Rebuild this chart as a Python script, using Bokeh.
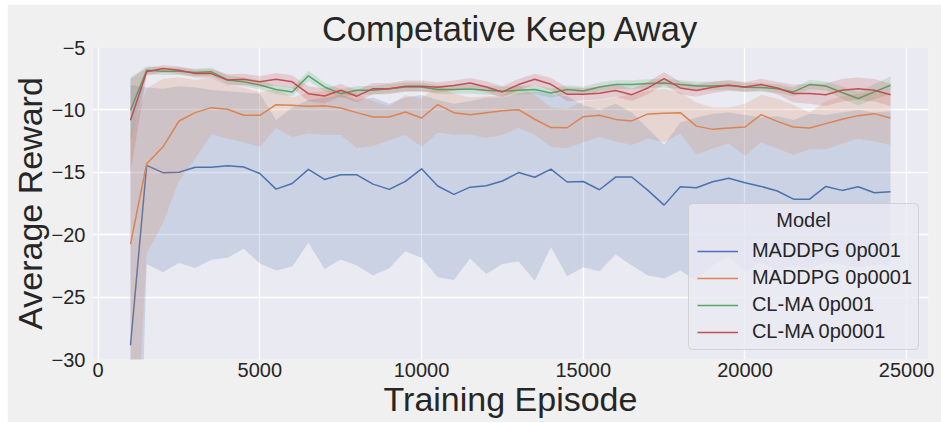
from bokeh.plotting import figure
from bokeh.models import Range1d, Legend, LegendItem, FixedTicker, Label, BoxAnnotation
from bokeh.embed import file_html
from bokeh.resources import INLINE

# ---------------- data ----------------
episodes = [1000, 1500, 2000, 2500, 3000, 3500, 4000, 4500, 5000, 5500, 6000, 6500,
            7000, 7500, 8000, 8500, 9000, 9500, 10000, 10500, 11000, 11500, 12000, 12500,
            13000, 13500, 14000, 14500, 15000, 15500, 16000, 16500, 17000, 17500, 18000, 18500,
            19000, 19500, 20000, 20500, 21000, 21500, 22000, 22500, 23000, 23500, 24000, 24500]

maddpg_001 = [-28.86, -14.45, -15.03, -15.0, -14.6, -14.6, -14.47, -14.58, -15.1, -16.35, -15.9, -14.77,
              -15.57, -15.2, -15.2, -15.95, -16.37, -15.73, -14.72, -16.1, -16.77, -16.19, -16.08, -15.7,
              -15.02, -15.4, -14.74, -15.78, -15.74, -16.4, -15.38, -15.38, -16.45, -17.63, -16.16, -16.24,
              -15.76, -15.47, -15.84, -16.13, -16.5, -17.15, -17.15, -16.13, -16.45, -16.16, -16.64, -16.56]
maddpg_001_lo = [-65.0, -22.34, -23.0, -22.26, -22.66, -22.0, -21.85, -21.13, -22.3, -22.87, -22.55, -20.65,
                 -22.74, -21.99, -22.47, -23.27, -22.69, -21.32, -21.85, -23.41, -23.62, -21.9, -23.14, -22.34,
                 -22.15, -23.68, -21.0, -23.33, -22.6, -22.93, -21.59, -22.47, -23.27, -23.5, -22.87, -23.68,
                 -22.47, -21.75, -23.0, -22.2, -22.9, -22.5, -22.7, -22.2, -22.4, -22.6, -22.4, -22.4]
maddpg_001_hi = [-8.0, -8.2, -8.3, -8.1, -8.2, -8.4, -8.5, -8.6, -8.7, -10.8, -9.8, -9.2,
                 -9.0, -8.8, -9.2, -9.0, -9.5, -9.0, -8.8, -9.2, -9.5, -9.3, -9.0, -9.0,
                 -8.7, -8.5, -8.7, -8.9, -9.6, -10.0, -9.5, -10.2, -11.5, -12.8, -11.0, -10.6,
                 -10.3, -10.2, -10.4, -10.6, -10.5, -10.8, -10.3, -10.4, -10.2, -10.0, -10.2, -10.1]

maddpg_0001 = [-20.76, -14.31, -12.98, -10.89, -10.22, -9.82, -9.95, -10.43, -10.43, -9.58, -9.63, -9.71,
               -9.66, -9.85, -10.22, -10.57, -10.57, -10.17, -10.65, -9.58, -10.22, -10.38, -10.22, -10.06,
               -9.98, -10.75, -11.42, -11.43, -10.54, -10.43, -10.76, -10.88, -10.32, -10.26, -10.22, -11.3,
               -11.56, -11.45, -11.37, -10.38, -10.92, -11.37, -11.45, -11.1, -10.75, -10.46, -10.3, -10.65]
maddpg_0001_lo = [-45.0, -21.5, -19.1, -15.7, -13.9, -11.98, -12.3, -12.6, -12.98, -11.45, -12.17, -11.9,
                  -12.0, -12.0, -13.06, -12.9, -12.44, -12.0, -12.98, -11.82, -11.98, -11.98, -12.25, -12.0,
                  -11.45, -12.0, -12.98, -13.06, -12.6, -12.17, -12.53, -12.8, -12.3, -12.6, -11.9, -13.6,
                  -13.1, -12.7, -13.7, -12.6, -13.1, -13.6, -13.16, -13.16, -12.7, -12.3, -12.53, -12.8]
maddpg_0001_hi = [-12.0, -8.3, -7.5, -7.4, -7.6, -7.4, -8.0, -8.2, -8.6, -8.3, -9.0, -8.6,
                  -8.5, -8.4, -8.7, -9.3, -9.7, -8.8, -9.1, -8.0, -8.7, -9.0, -8.9, -8.8,
                  -8.0, -8.8, -9.8, -9.9, -9.3, -9.2, -9.0, -8.7, -8.5, -8.3, -8.6, -9.4,
                  -9.8, -9.8, -9.5, -8.8, -9.1, -9.6, -10.2, -9.3, -8.9, -8.7, -8.5, -8.7]

clma_001 = [-10.03, -6.82, -6.9, -6.9, -7.0, -6.95, -7.6, -7.75, -8.0, -8.37, -8.56, -7.27,
            -8.16, -8.7, -8.43, -8.43, -8.3, -8.16, -8.16, -8.37, -8.37, -8.33, -8.43, -8.5,
            -8.43, -8.37, -8.64, -8.37, -8.48, -8.16, -7.97, -7.97, -7.89, -7.84, -7.97, -8.08,
            -8.08, -8.03, -8.19, -8.2, -8.3, -8.56, -7.97, -8.08, -8.61, -9.09, -8.56, -8.03]
clma_001_lo = [-12.5, -7.15, -7.2, -7.2, -7.3, -7.3, -7.95, -8.1, -8.35, -8.72, -8.9, -7.67,
               -8.5, -9.05, -8.78, -8.78, -8.65, -8.5, -8.5, -8.72, -8.72, -8.68, -8.78, -8.85,
               -8.78, -8.72, -9.0, -8.72, -8.83, -8.5, -8.32, -8.32, -8.24, -8.2, -8.32, -8.43,
               -8.43, -8.38, -8.54, -8.55, -8.65, -8.9, -8.35, -8.45, -9.1, -9.65, -9.15, -8.75]
clma_001_hi = [-7.4, -6.5, -6.6, -6.6, -6.7, -6.6, -7.25, -7.4, -7.65, -8.02, -8.2, -6.87,
               -7.8, -8.35, -8.08, -8.08, -7.95, -7.8, -7.8, -8.02, -8.02, -7.98, -8.08, -8.15,
               -8.08, -8.02, -8.3, -8.02, -8.13, -7.8, -7.62, -7.62, -7.54, -7.5, -7.62, -7.73,
               -7.73, -7.68, -7.84, -7.85, -7.95, -8.2, -7.6, -7.7, -8.1, -8.55, -7.95, -7.3]

clma_0001 = [-10.83, -6.95, -6.69, -6.82, -7.09, -7.09, -7.6, -7.55, -7.75, -7.55, -7.75, -8.7,
             -8.88, -8.43, -8.9, -8.3, -8.3, -8.1, -8.1, -8.19, -8.05, -7.84, -8.16, -8.56,
             -7.97, -7.55, -7.95, -8.75, -8.75, -8.67, -8.45, -8.78, -8.24, -7.49, -8.24, -8.45,
             -8.19, -8.03, -8.16, -7.97, -8.24, -8.69, -8.69, -8.78, -8.43, -8.3, -8.43, -8.78]
clma_0001_lo = [-15.0, -7.25, -7.0, -7.12, -7.4, -7.45, -8.05, -8.0, -8.2, -8.05, -8.25, -9.3,
                -9.48, -8.93, -9.4, -8.75, -8.75, -8.55, -8.55, -8.6, -8.45, -8.24, -8.6, -9.0,
                -8.42, -8.0, -8.45, -9.3, -9.25, -9.17, -8.95, -9.28, -8.74, -7.99, -8.74, -8.95,
                -8.64, -8.48, -8.56, -8.42, -8.74, -9.4, -9.5, -9.68, -9.33, -9.2, -9.33, -9.68]
clma_0001_hi = [-7.5, -6.65, -6.4, -6.52, -6.79, -6.74, -7.15, -7.1, -7.3, -7.05, -7.25, -8.1,
                -8.28, -7.93, -8.4, -7.85, -7.85, -7.65, -7.65, -7.79, -7.65, -7.44, -7.71, -8.11,
                -7.52, -7.1, -7.45, -8.2, -8.25, -8.17, -7.95, -8.28, -7.74, -6.99, -7.74, -7.95,
                -7.74, -7.58, -7.76, -7.52, -7.74, -7.99, -7.89, -7.88, -7.53, -7.4, -7.53, -7.88]

series_names = ["MADDPG 0p001", "MADDPG 0p0001", "CL-MA 0p001", "CL-MA 0p0001"]
series_colors = ["#4c72b0", "#dd8452", "#55a868", "#c44e52"]

x_ticks = [0, 5000, 10000, 15000, 20000, 25000]
x_tick_labels = ["0", "5000", "10000", "15000", "20000", "25000"]
y_ticks = [-30, -25, -20, -15, -10, -5]
y_tick_labels = ["\u221230", "\u221225", "\u221220", "\u221215", "\u221210", "\u22125"]

title_text = "Competative Keep Away"
x_label = "Training Episode"
y_label = "Average Reward"
legend_title = "Model"

# ---------------- figure ----------------
FONT = "Liberation Sans"
TXT = "#262626"

p = figure(width=934, height=418,
           min_border_left=85, min_border_right=13, min_border_top=43, min_border_bottom=63,
           x_range=Range1d(-175, 25675), y_range=Range1d(-30, -5),
           output_backend="svg", toolbar_location=None,
           background_fill_color="#eaeaf2", border_fill_color="#f0f0f0",
           outline_line_color=None)
p.margin = (4, 0, 1, 7)

p.title.text = title_text
p.title.align = "center"
p.title.text_font = FONT
p.title.text_font_size = "34.5px"
p.title.text_font_style = "normal"
p.title.text_color = TXT
p.title.standoff = 0

for ax in (p.xaxis[0], p.yaxis[0]):
    ax.axis_line_color = None
    ax.major_tick_line_color = None
    ax.minor_tick_line_color = None
    ax.major_tick_out = 0
    ax.major_tick_in = 0
    ax.minor_tick_out = 0
    ax.minor_tick_in = 0
    ax.major_label_text_font = FONT
    ax.major_label_text_font_size = "20px"
    ax.major_label_text_color = TXT
    ax.axis_label_text_font = FONT
    ax.axis_label_text_font_size = "34px"
    ax.axis_label_text_font_style = "normal"
    ax.axis_label_text_color = TXT

p.xaxis.ticker = FixedTicker(ticks=x_ticks)
p.xaxis.major_label_overrides = dict(zip(x_ticks, x_tick_labels))
p.yaxis.ticker = FixedTicker(ticks=y_ticks)
p.yaxis.major_label_overrides = dict(zip(y_ticks, y_tick_labels))
p.xaxis.axis_label = x_label
p.yaxis.axis_label = y_label
p.xaxis.major_label_standoff = 3
p.yaxis.major_label_standoff = 7
p.xaxis.axis_label_standoff = 0
p.yaxis.axis_label_standoff = 0

p.xgrid.grid_line_color = "white"
p.ygrid.grid_line_color = "white"
p.xgrid.grid_line_width = 1.3
p.ygrid.grid_line_width = 1.3

means = [maddpg_001, maddpg_0001, clma_001, clma_0001]
los = [maddpg_001_lo, maddpg_0001_lo, clma_001_lo, clma_0001_lo]
his = [maddpg_001_hi, maddpg_0001_hi, clma_001_hi, clma_0001_hi]

items = []
for name, col, m, lo, hi in zip(series_names, series_colors, means, los, his):
    r = p.line(episodes, m, line_color=col, line_width=1.5)
    p.varea(x=episodes, y1=lo, y2=hi, fill_color=col, fill_alpha=0.2)
    items.append(LegendItem(label=name, renderers=[r]))

# legend frame (drawn as a box so that the centred title can sit on top of it)
legend_box = BoxAnnotation(left=18254, right=25366, top=-17.5, bottom=-29.2,
                           fill_color="#eaeaf2", fill_alpha=0.8,
                           line_color="#cccccc", line_alpha=0.8, line_width=1,
                           border_radius=4)
p.add_layout(legend_box)

legend = Legend(items=items, location="bottom_right", margin=10,
                label_text_font=FONT, label_text_font_size="20px", label_text_color=TXT,
                glyph_width=41, glyph_height=20, label_height=20, label_standoff=14,
                spacing=4, padding=6,
                background_fill_alpha=0.0,
                border_line_color="#cccccc", border_line_alpha=0.0)
p.add_layout(legend)

title_label = Label(x=21810, y=-18.81, text=legend_title, text_align="center",
                    text_baseline="middle", text_font=FONT, text_font_size="20px",
                    text_color=TXT, level="overlay")
p.add_layout(title_label)

open("out.html", "w").write(file_html(p, INLINE))
